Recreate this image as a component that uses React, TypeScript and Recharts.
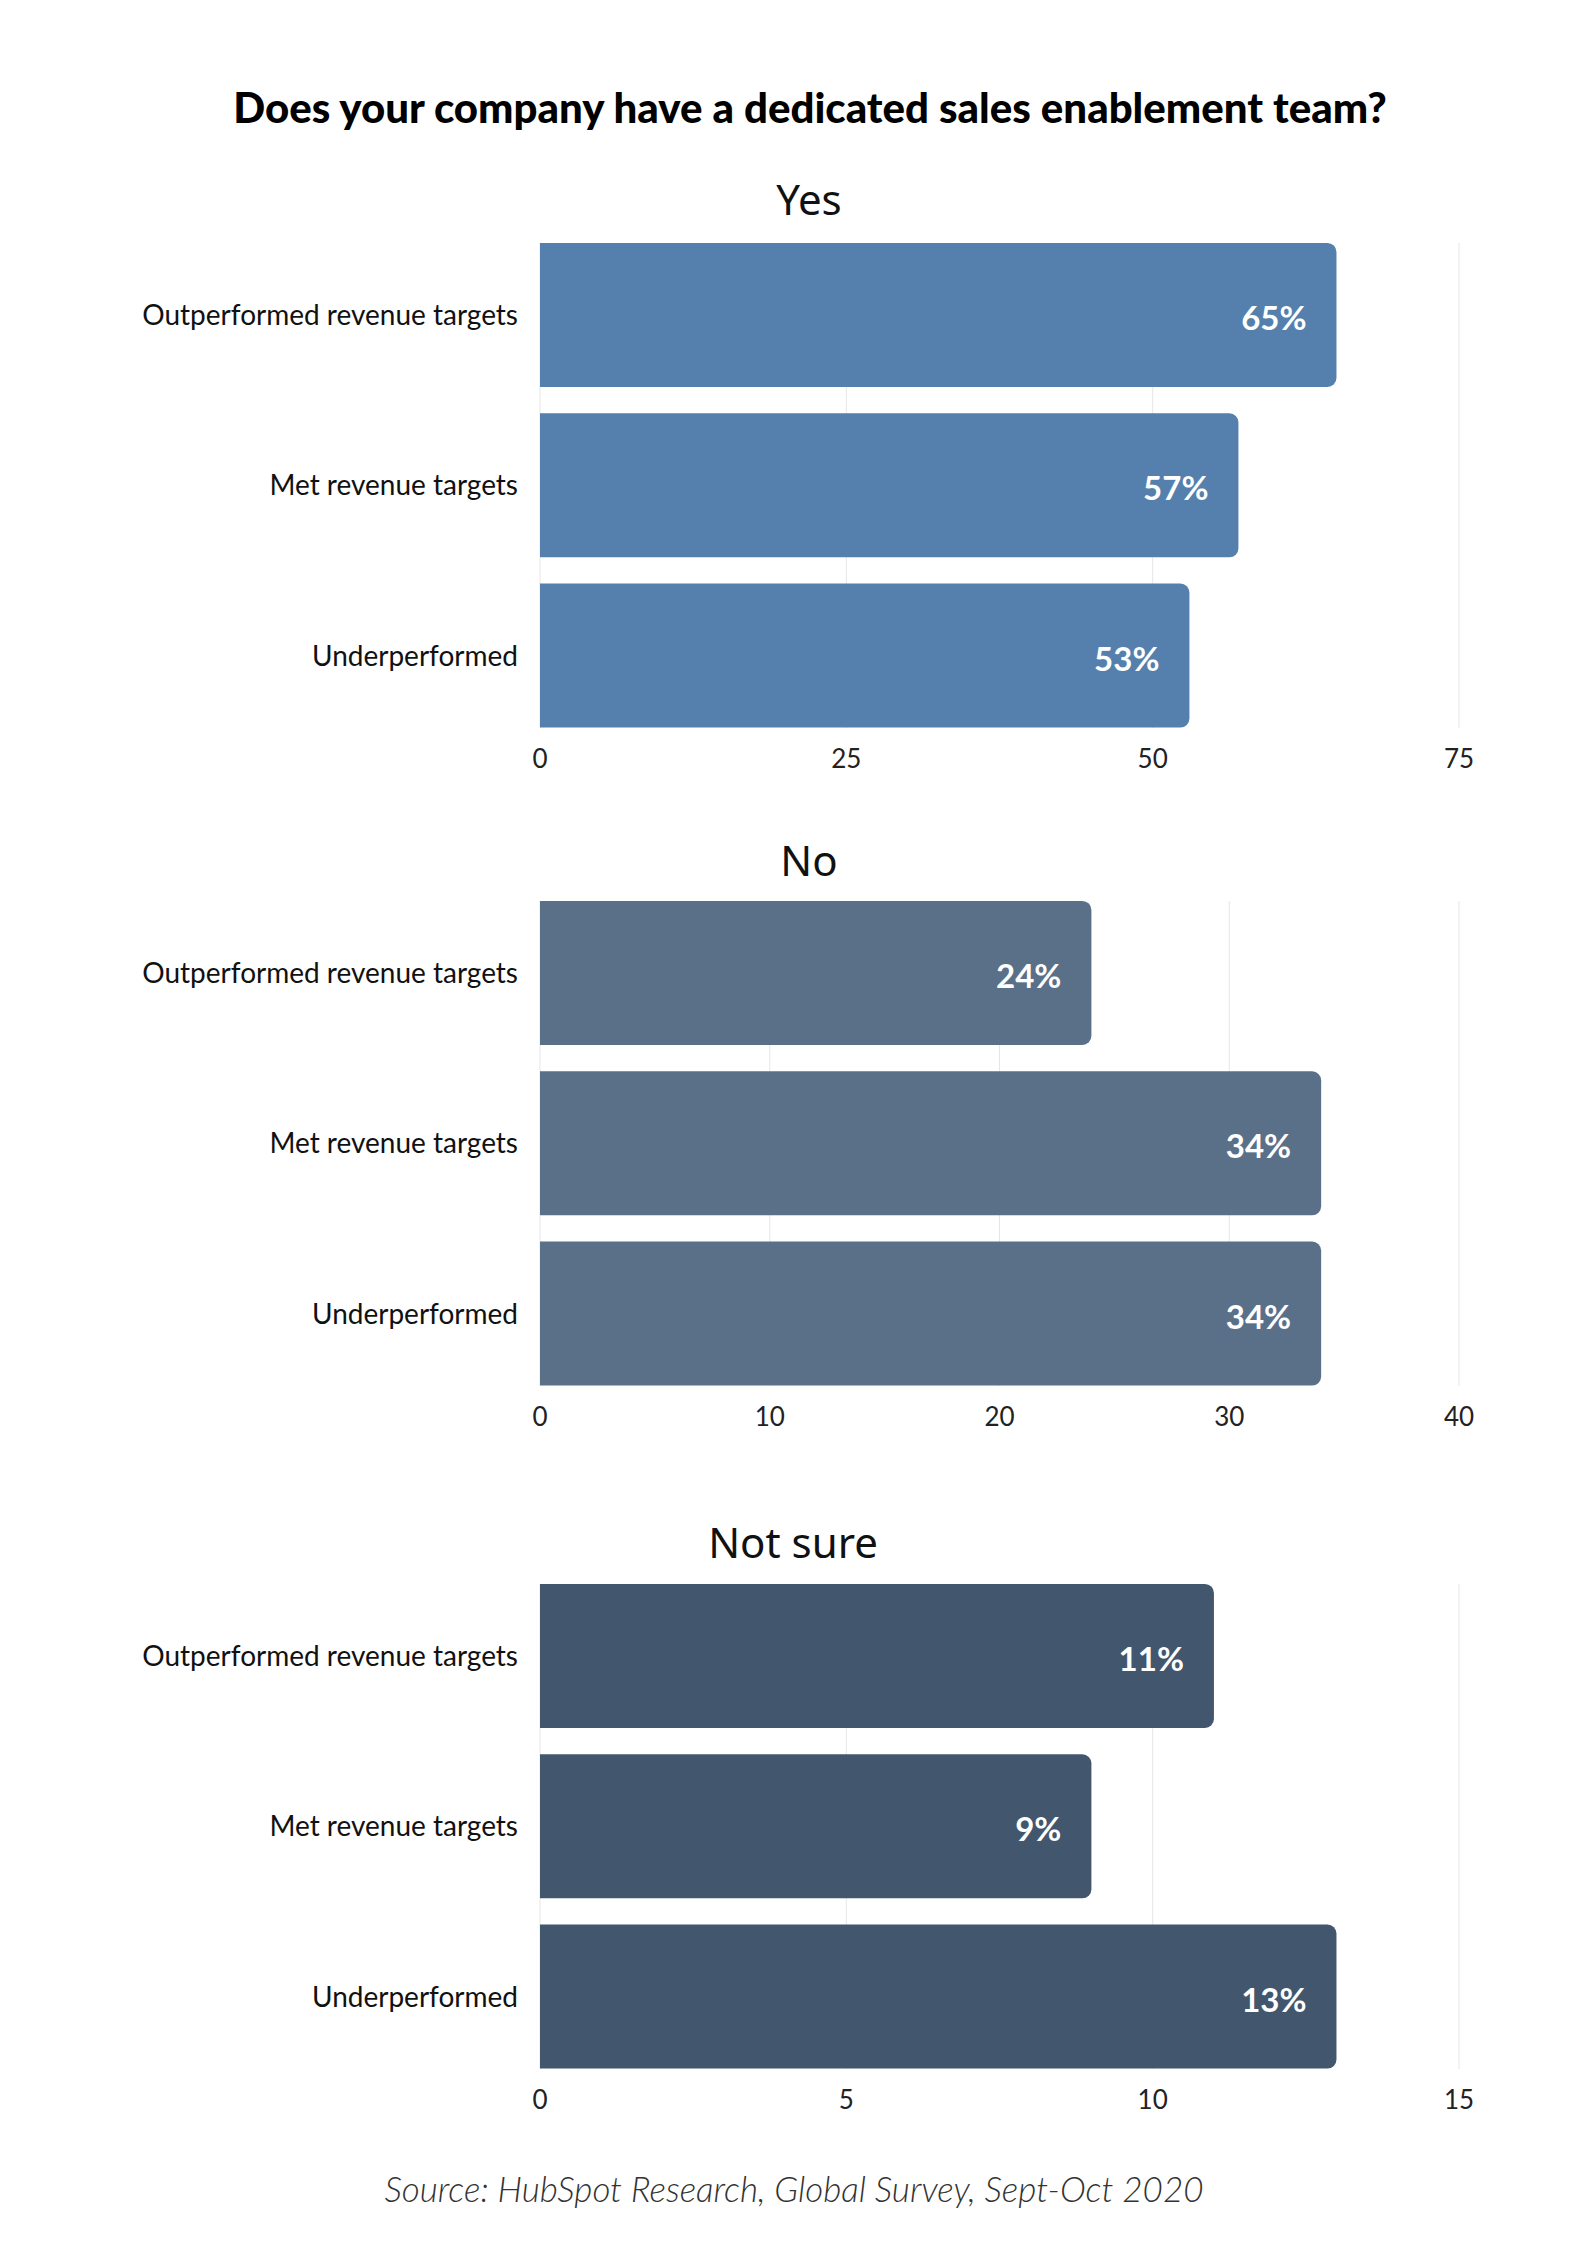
import React from "react";
import { BarChart, Bar, XAxis, YAxis, CartesianGrid, LabelList } from "recharts";

const categories = ["Outperformed revenue targets", "Met revenue targets", "Underperformed"];
const yesValues = [65, 57, 53];
const noValues = [24, 34, 34];
const notSureValues = [11, 9, 13];
const yesTicks = [0, 25, 50, 75];
const noTicks = [0, 10, 20, 30, 40];
const notSureTicks = [0, 5, 10, 15];

const FONT = "Lato, 'Noto Sans', sans-serif";

function ValueLabel(props: any) {
  const { x, y, width, height, value } = props;
  return (
    <text
      x={x + width - 30}
      y={y + height / 2 + 2}
      textAnchor="end"
      dominantBaseline="central"
      fill="#ffffff"
      fontFamily={FONT}
      fontWeight={700}
      fontSize={33}
    >
      {value}%
    </text>
  );
}

interface PanelProps {
  values: number[];
  ticks: number[];
  color: string;
  top: number;
}

function Panel({ values, ticks, color, top }: PanelProps) {
  const data = categories.map((c, i) => ({ name: c, value: values[i] }));
  return (
    <div style={{ position: "absolute", left: 0, top }}>
      <BarChart
        width={1587}
        height={552}
        data={data}
        layout="vertical"
        margin={{ top: 0, right: 128, bottom: 0, left: 0 }}
        barCategoryGap="7.6%"
      >
        {/* grid only spans the bars, not the outer gap */}
        <CartesianGrid horizontal={false} stroke="#e6e6e6" y={13} height={485} />
        <XAxis
          type="number"
          domain={[ticks[0], ticks[ticks.length - 1]]}
          ticks={ticks}
          axisLine={false}
          tickLine={false}
          tickSize={6}
          tickMargin={3}
          height={41}
          tick={{ fill: "#222", fontSize: 26, fontFamily: FONT }}
        />
        <YAxis
          type="category"
          dataKey="name"
          width={540}
          axisLine={false}
          tickLine={false}
          tickSize={6}
          tickMargin={16}
          tick={{ fill: "#111", fontSize: 28, fontFamily: FONT }}
        />
        <Bar dataKey="value" fill={color} radius={[0, 9, 9, 0]} isAnimationActive={false}>
          <LabelList dataKey="value" content={ValueLabel} />
        </Bar>
      </BarChart>
    </div>
  );
}

function Heading({ text, x, y }: { text: string; x: number; y: number }) {
  return (
    <div
      style={{
        position: "absolute",
        left: x,
        top: y,
        transform: "translate(-50%, -50%)",
        fontFamily: "'Noto Sans', sans-serif",
        fontSize: 42,
        color: "#111",
        whiteSpace: "nowrap",
      }}
    >
      {text}
    </div>
  );
}

export default function App() {
  return (
    <div
      style={{
        position: "absolute",
        left: 0,
        top: 0,
        width: 1587,
        height: 2245,
        background: "#fff",
        fontFamily: FONT,
      }}
    >
      <div
        style={{
          position: "absolute",
          left: 810,
          top: 107,
          transform: "translate(-50%, -50%)",
          fontFamily: FONT,
          fontWeight: 900,
          fontSize: 42,
          color: "#000",
          whiteSpace: "nowrap",
        }}
      >
        Does your company have a dedicated sales enablement team?
      </div>
      <Heading text="Yes" x={809} y={198} />
      <Panel values={yesValues} ticks={yesTicks} color="#5580ad" top={230} />
      <Heading text="No" x={809} y={859} />
      <Panel values={noValues} ticks={noTicks} color="#5a7089" top={888} />
      <Heading text="Not sure" x={793} y={1541} />
      <Panel values={notSureValues} ticks={notSureTicks} color="#42566e" top={1571} />
      <div
        style={{
          position: "absolute",
          left: 794,
          top: 2188,
          transform: "translate(-50%, -50%)",
          fontFamily: FONT,
          fontStyle: "italic",
          fontWeight: 300,
          fontSize: 35,
          color: "#333",
          whiteSpace: "nowrap",
        }}
      >
        Source: HubSpot Research, Global Survey, Sept-Oct 2020
      </div>
    </div>
  );
}
